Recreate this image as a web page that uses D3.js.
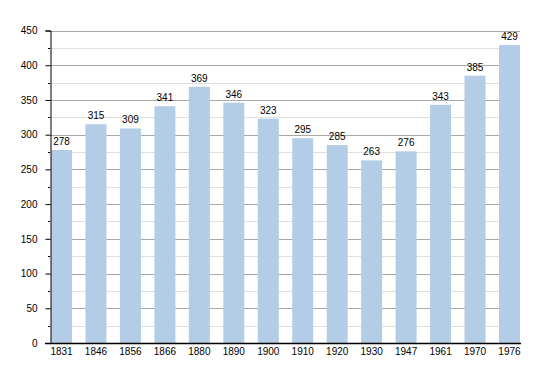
<!DOCTYPE html>
<html>
<head>
<meta charset="utf-8">
<script src="https://cdn.jsdelivr.net/npm/d3@7"></script>
<style>
  body { margin: 0; background: #fff; }
  text { font-family: "Liberation Sans", Arial, sans-serif; font-size: 10px; fill: #000; }
</style>
</head>
<body>
<div id="chart"></div>
<script>
var years = ["1831", "1846", "1856", "1866", "1880", "1890", "1900", "1910", "1920", "1930", "1947", "1961", "1970", "1976"];
var population = [278, 315, 309, 341, 369, 346, 323, 295, 285, 263, 276, 343, 385, 429];
var majorTicks = [0, 50, 100, 150, 200, 250, 300, 350, 400, 450];
var minorTicks = [25, 75, 125, 175, 225, 275, 325, 375, 425];

var width = 550, height = 373;
var plotLeft = 50, plotRight = 520, plotTop = 30.5, plotBottom = 343;

var svg = d3.select("#chart")
  .append("svg")
  .attr("width", width)
  .attr("height", height);

var x = d3.scaleBand()
  .domain(years)
  .range([plotLeft + 1, plotRight])
  .paddingInner(0.39)
  .paddingOuter(0);

var y = d3.scaleLinear()
  .domain([0, 450])
  .range([plotBottom, plotTop]);

// minor grid
svg.append("g")
  .selectAll("line")
  .data(minorTicks)
  .enter()
  .append("line")
  .attr("x1", plotLeft)
  .attr("x2", plotRight)
  .attr("y1", function (d) { return Math.round(y(d)) + 0.5; })
  .attr("y2", function (d) { return Math.round(y(d)) + 0.5; })
  .attr("stroke", "#e0e0e0");

// major grid
svg.append("g")
  .selectAll("line")
  .data(majorTicks.slice(1))
  .enter()
  .append("line")
  .attr("x1", plotLeft)
  .attr("x2", plotRight)
  .attr("y1", function (d) { return Math.round(y(d)) + 0.5; })
  .attr("y2", function (d) { return Math.round(y(d)) + 0.5; })
  .attr("stroke", "#a8a8a8");

// bars
svg.append("g")
  .selectAll("rect")
  .data(population)
  .enter()
  .append("rect")
  .attr("x", function (d, i) { return x(years[i]); })
  .attr("y", function (d) { return y(d); })
  .attr("width", x.bandwidth())
  .attr("height", function (d) { return plotBottom - y(d); })
  .attr("fill", "#b3cde6");

// value labels
svg.append("g")
  .selectAll("text")
  .data(population)
  .enter()
  .append("text")
  .attr("x", function (d, i) { return x(years[i]) + x.bandwidth() / 2; })
  .attr("y", function (d) { return y(d) - 5; })
  .attr("text-anchor", "middle")
  .text(function (d) { return d; });

// y axis
var yAxis = svg.append("g")
  .attr("transform", "translate(" + (plotLeft + 0.5) + ",0)")
  .call(d3.axisLeft(y).tickValues(majorTicks).tickSize(5).tickPadding(8));
yAxis.select(".domain").attr("stroke", "#000");
yAxis.selectAll("text").attr("font-size", null).attr("font-family", null);

svg.append("g")
  .selectAll("line")
  .data(minorTicks)
  .enter()
  .append("line")
  .attr("x1", plotLeft - 2)
  .attr("x2", plotLeft)
  .attr("y1", function (d) { return Math.round(y(d)) + 0.5; })
  .attr("y2", function (d) { return Math.round(y(d)) + 0.5; })
  .attr("stroke", "#000");

// x axis
var xAxis = svg.append("g")
  .attr("transform", "translate(0," + (plotBottom + 0.5) + ")")
  .call(d3.axisBottom(x).tickSize(0).tickPadding(4));
xAxis.select(".domain").attr("d", "M" + (plotLeft - 5) + ",0H" + (plotRight + 1)).attr("stroke", "#000").attr("stroke-width", 1.5);
xAxis.selectAll("text").attr("font-size", null).attr("font-family", null);
</script>
</body>
</html>
